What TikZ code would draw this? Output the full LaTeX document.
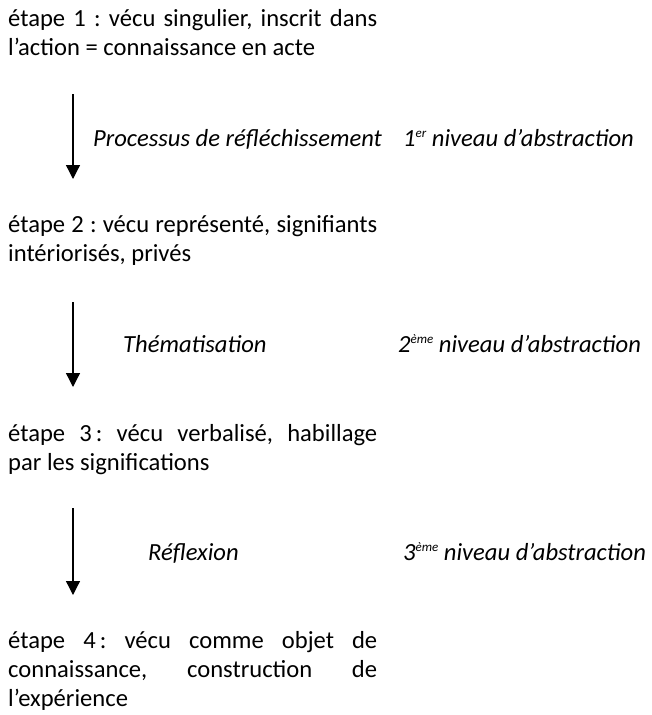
\documentclass[tikz,border=0pt]{standalone}
\usepackage{fontspec}
\setmainfont{Carlito}
\usetikzlibrary{arrows.meta}
\newcommand\jl[1]{{\spaceskip=0pt\xspaceskip=0pt\makebox[369pt][s]{#1}}}
\newcommand\sups[1]{\raisebox{0.75ex}{\fontsize{13}{13}\selectfont #1}}
\begin{document}
\begin{tikzpicture}[x=1pt,y=-1pt,
  etape/.style={anchor=base west, text width=369pt, align=justify, inner sep=0pt, font=\fontsize{24.6}{29.3}\selectfont\frenchspacing},
  lbl/.style={anchor=base west, inner sep=0pt, font=\fontsize{24.6}{29.3}\selectfont\itshape},
  fleche/.style={line width=1.3pt, -{Triangle[width=14pt,length=14pt]}}]
\useasboundingbox (0,0) rectangle (652,715);

\node[etape] (e1) at (8,26) {\jl{étape 1 : vécu singulier, inscrit dans}\\ l’action = connaissance en acte};
\node[etape] (e2) at (8,232) {\jl{étape 2 : vécu représenté, signifiants}\\ intériorisés, privés};
\node[etape] (e3) at (8,441) {\jl{étape 3\,: vécu verbalisé, habillage}\\ par les significations};
\node[etape] (e4) at (8,648) {\jl{étape 4\,: vécu comme objet de}\\ \jl{connaissance, construction de}\\ l’expérience};

\coordinate (a1) at (73,94);  \coordinate (b1) at (73,179);
\coordinate (a2) at (73,302); \coordinate (b2) at (73,387);
\coordinate (a3) at (73,508); \coordinate (b3) at (73,595);
\draw[fleche] (a1) -- (b1);
\draw[fleche] (a2) -- (b2);
\draw[fleche] (a3) -- (b3);

\node[lbl] (t1) at (93,146) {Processus de réfléchissement};
\node[lbl] (n1) at (403,146) {1\sups{er} niveau d’abstraction};
\node[lbl] (t2) at (123,352) {Thématisation};
\node[lbl] (n2) at (398,352) {2\sups{ème} niveau d’abstraction};
\node[lbl] (t3) at (148,560) {Réflexion};
\node[lbl] (n3) at (403,560) {3\sups{ème} niveau d’abstraction};
\end{tikzpicture}
\end{document}
